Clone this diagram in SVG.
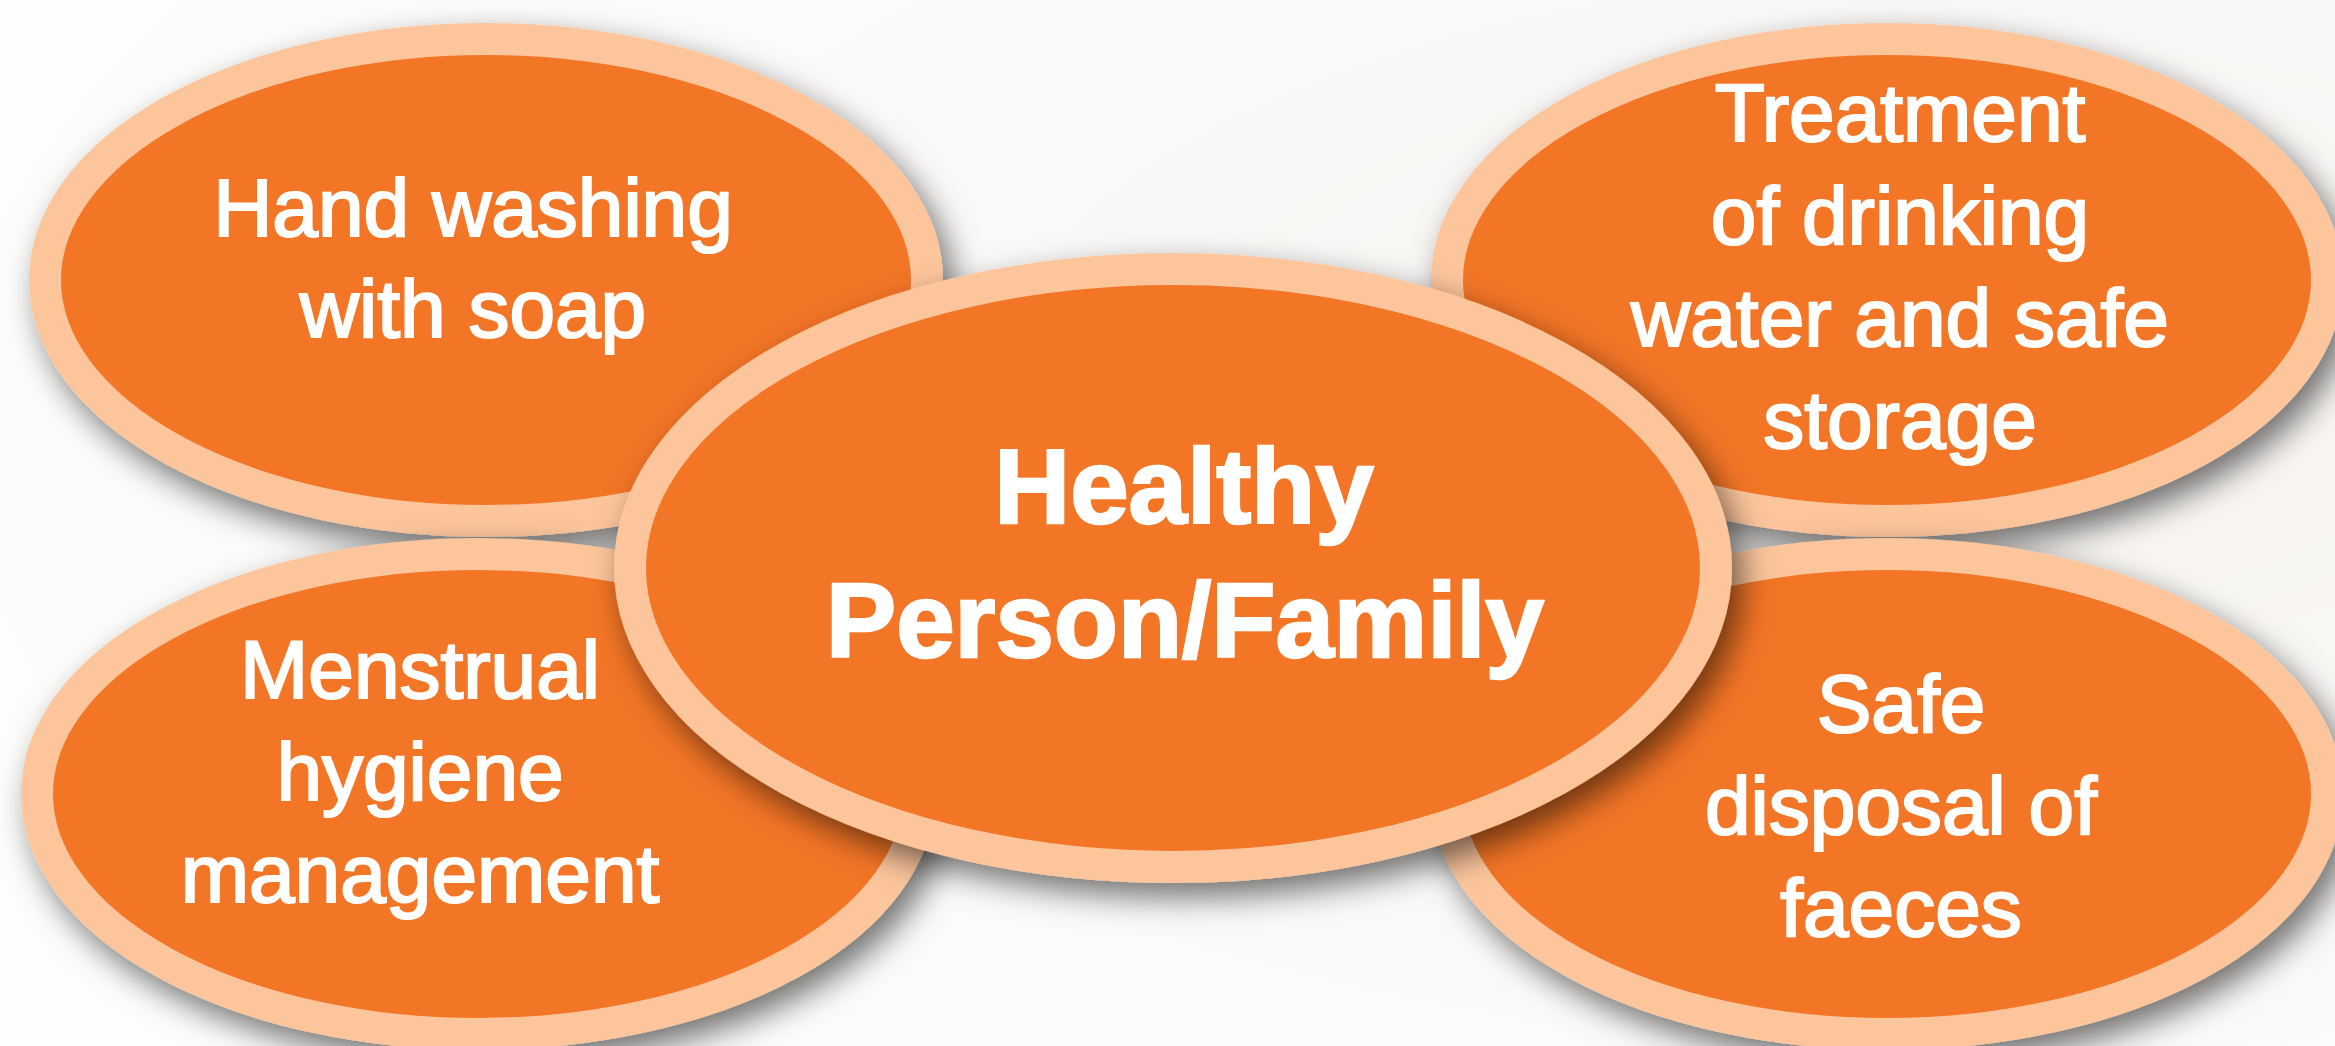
<svg xmlns="http://www.w3.org/2000/svg" width="2335" height="1046" viewBox="0 0 2335 1046">
  <defs>
    <filter id="shadow" x="-20%" y="-20%" width="140%" height="150%">
      <feDropShadow dx="10" dy="14" stdDeviation="16" flood-color="#000" flood-opacity="0.55"/>
    </filter>
    <radialGradient id="bg" cx="0.85" cy="0.4" r="0.9">
      <stop offset="0" stop-color="#f7f4f1"/>
      <stop offset="1" stop-color="#fdfdfc"/>
    </radialGradient>
  </defs>
  <style>
    .blob { fill: #f37526; stroke: #fcc59c; stroke-width: 32; }
    .lbl { font-family: "Liberation Sans", Arial, sans-serif; font-size: 82px; fill: #ffffff; stroke: #ffffff; stroke-width: 2.2; text-anchor: middle; }
    .main { font-family: "Liberation Sans", Arial, sans-serif; font-size: 105px; font-weight: bold; fill: #ffffff; stroke: #ffffff; stroke-width: 2.5; text-anchor: middle; }
  </style>
  <rect width="2335" height="1046" fill="url(#bg)"/>

  <g id="connectors"/>

  <g id="node-handwashing">
    <ellipse class="blob" cx="486" cy="280" rx="441" ry="241" filter="url(#shadow)"/>
    <text class="lbl" x="473" y="236">Hand washing</text>
    <text class="lbl" x="473" y="337">with soap</text>
  </g>

  <g id="node-treatment">
    <ellipse class="blob" cx="1887" cy="280" rx="440" ry="241" filter="url(#shadow)"/>
    <text class="lbl" x="1900" y="141">Treatment</text>
    <text class="lbl" x="1900" y="244">of drinking</text>
    <text class="lbl" x="1900" y="346">water and safe</text>
    <text class="lbl" x="1900" y="448">storage</text>
  </g>

  <g id="node-menstrual">
    <ellipse class="blob" cx="478" cy="794" rx="441" ry="240" filter="url(#shadow)"/>
    <text class="lbl" x="420" y="698">Menstrual</text>
    <text class="lbl" x="420" y="800">hygiene</text>
    <text class="lbl" x="420" y="902">management</text>
  </g>

  <g id="node-faeces">
    <ellipse class="blob" cx="1887" cy="794" rx="440" ry="240" filter="url(#shadow)"/>
    <text class="lbl" x="1901" y="732">Safe</text>
    <text class="lbl" x="1901" y="834">disposal of</text>
    <text class="lbl" x="1901" y="936">faeces</text>
  </g>

  <g id="node-center">
    <ellipse class="blob" cx="1173" cy="568" rx="543" ry="299" filter="url(#shadow)"/>
    <text class="main" x="1184" y="523">Healthy</text>
    <text class="main" x="1185" y="657">Person/Family</text>
  </g>
</svg>
